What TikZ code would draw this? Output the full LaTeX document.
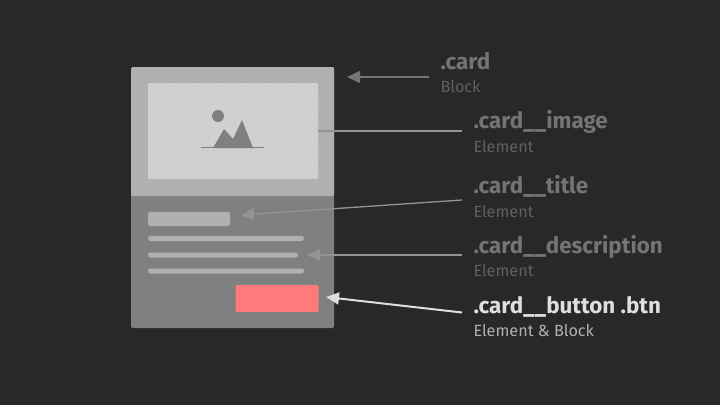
\documentclass[tikz,border=0pt]{standalone}
\usepackage{fontspec}
\setmainfont{Fira Sans}
\usetikzlibrary{arrows.meta}
\definecolor{cback}{HTML}{282828}
\definecolor{cblock}{HTML}{B0B0B0}
\definecolor{cbody}{HTML}{808080}
\definecolor{cimage}{HTML}{D0D0D0}
\definecolor{cbtn}{HTML}{FF7B7B}
\definecolor{cdim}{HTML}{747474}
\definecolor{cdimsub}{HTML}{606060}
\definecolor{cline}{HTML}{949494}
\definecolor{clight}{HTML}{DEDEDE}
\tikzset{
  every picture/.style={line width=1pt},
  part/.style={fill=#1, inner sep=0pt, outer sep=0pt, rounded corners=1.5pt},
  bar/.style={fill=cblock, inner sep=0pt, outer sep=0pt, rounded corners=2.5pt, minimum height=5pt},
  classname/.style={font=\fontsize{22.4}{22.4}\selectfont\bfseries, text=#1, anchor=base west, inner sep=0pt},
  classname/.default=cdim,
  kind/.style={font=\fontsize{16.2}{16.2}\selectfont, text=#1, anchor=base west, inner sep=0pt},
  kind/.default=cdimsub,
  arrow/.style={-{Triangle[length=13pt, width=12pt]}, draw=#1, line width=1.3pt},
  arrow/.default=cline,
}

\begin{document}
\begin{tikzpicture}[x=1pt, y=-1pt]
  \useasboundingbox[fill=cback] (0,0) rectangle (720,405);
  % card
  \node[part=cbody, minimum width=203pt, minimum height=261pt] (card) at (232.5,197.5) {};
  \fill[cblock, rounded corners=1.5pt] (131,67) -- (334,67) -- (334,196) -- (131,196) -- cycle;
  \node[part=cimage, minimum width=170pt, minimum height=96pt] (image) at (233,131) {};
  \foreach \i in {0,...,27} {
    \foreach \j in {0,...,14} {
      \pgfmathsetmacro{\dx}{mod(\j,2)*3}
      \fill[cblock] (151+6*\i+\dx,86+6*\j) circle (0.45);
    }
  }
  % icon
  \fill[cbody] (218,116) circle (6);
  \fill[cbody] (213,148) -- (224,129) -- (233,139) -- (242,120) -- (253,148) -- cycle;
  \draw[cbody, line width=1.5pt] (201,147.5) -- (264,147.5);
  % body
  \node[bar, rounded corners=2pt, minimum width=82pt, minimum height=14pt] (titlebar) at (189,219) {};
  \node[bar, minimum width=156pt] (textA) at (226,238.5) {};
  \node[bar, minimum width=150pt] (textB) at (223,255) {};
  \node[bar, minimum width=156pt] (textC) at (226,271) {};
  \node[part=cbtn, minimum width=83pt, minimum height=27pt] (button) at (277,298.5) {};
  % labels
  \node[classname] (cardname) at (440,69) {.card};
  \node[kind] (cardkind) at (440,92) {Block};
  \node[classname] (imagename) at (473,128) {.card\_\_image};
  \node[kind] (imagekind) at (473,152) {Element};
  \node[classname] (titlename) at (473,193) {.card\_\_title};
  \node[kind] (titlekind) at (473,217) {Element};
  \node[classname] (descname) at (473,253) {.card\_\_description};
  \node[kind] (desckind) at (473,276) {Element};
  \node[classname=clight] (btnname) at (473,313) {.card\_\_button .btn};
  \node[kind=cblock] (btnkind) at (473,336) {Element \& Block};
  % connectors
  \coordinate (cardtail) at (429,77);
  \coordinate (cardtip) at (347,77);
  \coordinate (imagetail) at (462,131);
  \coordinate (titletail) at (462,200);
  \coordinate (titletip) at (241,215);
  \coordinate (desctail) at (462,255);
  \coordinate (desctip) at (307,255);
  \coordinate (btntail) at (462,312.5);
  \coordinate (btntip) at (326,297);
  \draw[arrow=cdim] (cardtail) -- (cardtip);
  \draw[draw=cline, line width=1.3pt] (imagetail) -- (image.east);
  \draw[arrow] (titletail) -- (titletip);
  \draw[arrow] (desctail) -- (desctip);
  \draw[arrow=clight, line width=2pt] (btntail) -- (btntip);
\end{tikzpicture}
\end{document}
